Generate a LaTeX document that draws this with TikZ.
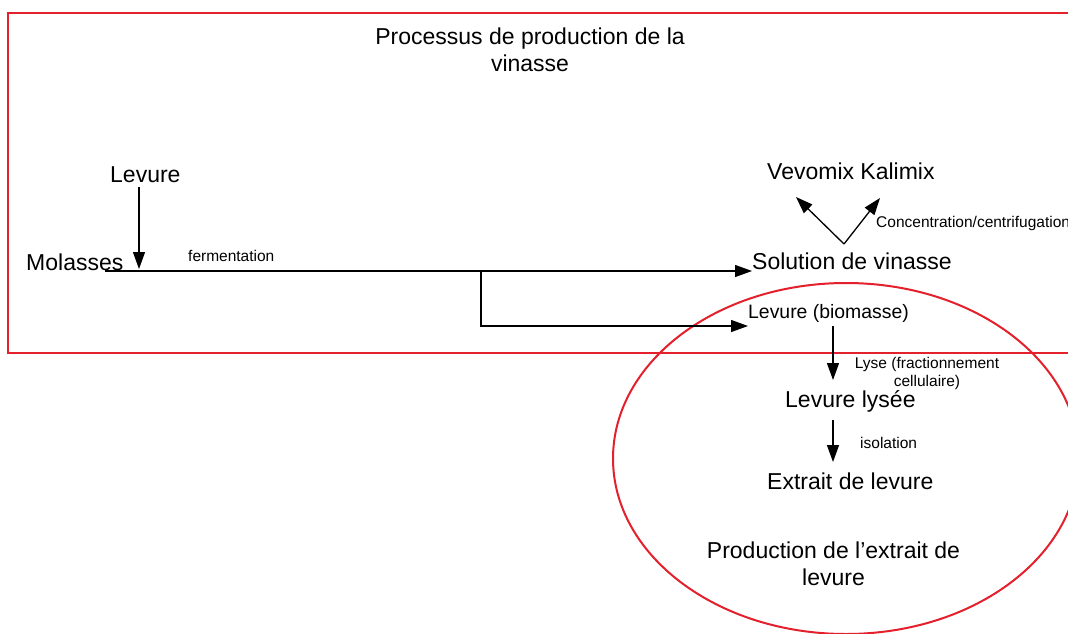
\documentclass[tikz,border=0pt]{standalone}
\usepackage{fontspec}
\setmainfont{Liberation Sans}
\usetikzlibrary{arrows.meta}
\definecolor{frame}{RGB}{228,32,44}
\begin{document}
\begin{tikzpicture}[x=1pt,y=-1pt,
  big/.style={font=\fontsize{23}{27}\selectfont, inner sep=0pt},
  mid/.style={font=\fontsize{19.4}{23}\selectfont, inner sep=0pt},
  small/.style={font=\fontsize{15.5}{18}\selectfont, inner sep=0pt},
  arr/.style={line width=1.3pt, -{Triangle[length=17pt,width=12pt]}},
  redline/.style={draw=frame, line width=2pt}]
\useasboundingbox (0,0) rectangle (1068,634);
\clip (0,0) rectangle (1068,634);
\fill[white] (0,0) rectangle (1068,634);

% frames
\draw[redline] (8,13.5) rectangle (1090,353);
\draw[redline] (846,458.5) ellipse [x radius=233, y radius=175.5];

% texts (multi-line nodes: base = last line's baseline)
\node[big, align=center, anchor=base] (title) at (530,71.5) {Processus de production de la\\vinasse};
\node[big, anchor=base west] (lev) at (110,182) {Levure};
\node[big, anchor=base west] (mol) at (26,270) {Molasses};
\node[small, anchor=base west] (ferm) at (188,261) {fermentation};
\node[big, anchor=base west] (sol) at (752,269) {Solution de vinasse};
\node[big, anchor=base west] (vk) at (767,179) {Vevomix Kalimix};
\node[small, anchor=base west] (conc) at (876,227) {Concentration/centrifugation};
\node[mid, anchor=base west] (bio) at (748,318) {Levure (biomasse)};
\node[small, align=center, anchor=base] (lyse) at (927,386) {Lyse (fractionnement\\cellulaire)};
\node[big, anchor=base west] (lys) at (785,407) {Levure lysée};
\node[small, anchor=base west] (iso) at (860,448) {isolation};
\node[big, anchor=base west] (ext) at (767,489) {Extrait de levure};
\node[big, align=center, anchor=base] (prod) at (833.5,585) {Production de l’extrait de\\levure};

% connector points
\coordinate (l0) at (139,187);
\coordinate (levtip) at (139,269);
\coordinate (m0) at (105,271);
\coordinate (br) at (481,271);
\coordinate (solin) at (752,271);
\coordinate (bioin) at (748,326);
\coordinate (v) at (844,244);
\coordinate (vl) at (796,197);
\coordinate (vr) at (880,198);
\coordinate (b0) at (833,326);
\coordinate (b1) at (833,380);
\coordinate (c0) at (833,420);
\coordinate (c1) at (833,462);

% connectors
\draw[arr] (l0) -- (levtip);
\draw[arr] (m0) -- (solin);
\draw[arr] (br) |- (bioin);
\draw[arr] (v) -- (vl);
\draw[arr] (v) -- (vr);
\draw[arr] (b0) -- (b1);
\draw[arr] (c0) -- (c1);
\end{tikzpicture}
\end{document}
